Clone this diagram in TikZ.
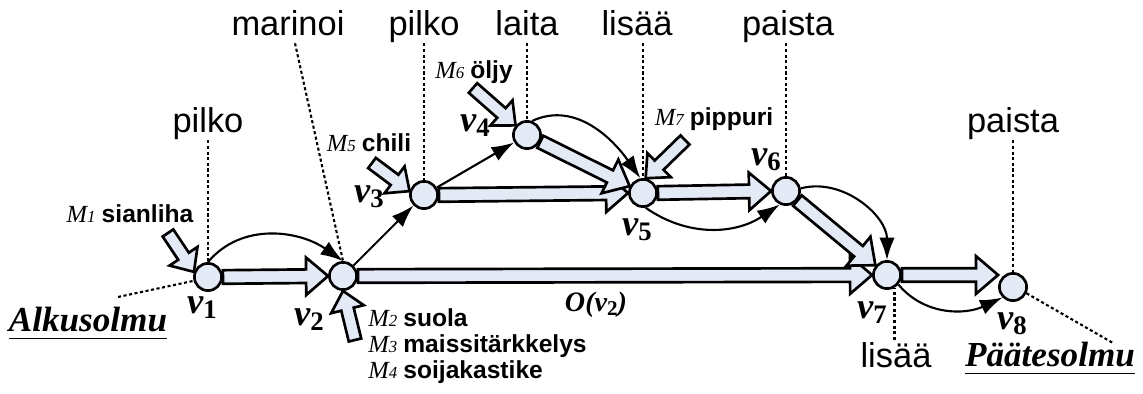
\documentclass[tikz,border=0pt]{standalone}
\usepackage{fontspec}
\setmainfont{Liberation Serif}
\setsansfont{Liberation Sans}
\usetikzlibrary{arrows.meta,calc,backgrounds}

\definecolor{pale}{RGB}{227,234,246}

% block arrow from #1 to #2: shaft half-width #3, head half-width #4, head length #5
\newcommand\blockarrow[5]{%
  \path let \p1=(#1), \p2=(#2),
    \n1={atan2(\y2-\y1,\x2-\x1)}, \n2={veclen(\x2-\x1,\y2-\y1)}
    in \pgfextra{\xdef\blkangle{\n1}\xdef\blklength{\n2}};
  \path[blockline, shift={(#1)}, rotate=\blkangle]
    (0,-#3) -- (\blklength-#5,-#3) -- (\blklength-#5,-#4) -- (\blklength+0pt,0)
    -- (\blklength-#5,#4) -- (\blklength-#5,#3) -- (0,#3) -- cycle;}
\newcommand\fatarrow[2]{\blockarrow{#1}{#2}{0.17cm}{0.47cm}{0.55cm}}
\newcommand\inarrow[2]{\blockarrow{#1}{#2}{0.16cm}{0.42cm}{0.47cm}}

% vertex name and ingredient text
\newcommand\vtx[2][19]{v\raisebox{-0.3ex}{\fontsize{#1}{#1}\selectfont\upshape #2}}
\newcommand\ingred[2]{{\itshape M{\fontsize{12}{12}\selectfont #1}}~{\sffamily\bfseries #2}}

\tikzset{
  stepnode/.style={circle, draw, fill=pale, line width=1.9pt, minimum size=0.68cm, inner sep=0pt},
  blockline/.style={draw=black, fill=pale, line width=1.9pt, line join=miter},
  flow/.style={line width=1.5pt, -{Latex[length=16pt,width=11pt]}},
  guide/.style={line width=1.5pt, dash pattern=on 2.2pt off 1.8pt},
  oplabel/.style={font=\sffamily\fontsize{24.5}{24.5}\selectfont, anchor=base, text depth=0pt, inner xsep=1pt, inner ysep=5pt},
  ingr/.style={font=\fontsize{17.5}{18.5}\selectfont, inner sep=0pt, align=left},
  vlabel/.style={font=\fontsize{26}{26}\selectfont\bfseries\itshape, inner sep=0pt},
  olabel/.style={font=\fontsize{20}{20}\selectfont\bfseries\itshape, inner sep=0pt},
  endlabel/.style={font=\fontsize{25}{25}\selectfont\bfseries\itshape, anchor=base, text depth=0pt, inner xsep=0pt, inner ysep=4pt},
}

\begin{document}
\begin{tikzpicture}
\useasboundingbox (0,0) rectangle (28.575,9.85);

% recipe steps
\node[stepnode] (v1) at (5.2,2.925) {};
\node[stepnode] (v2) at (8.575,2.95) {};
\node[stepnode] (v3) at (10.6,4.975) {};
\node[stepnode] (v4) at (13.175,6.475) {};
\node[stepnode] (v5) at (16.075,5.025) {};
\node[stepnode] (v6) at (19.65,5.075) {};
\node[stepnode] (v7) at (22.175,2.975) {};
\node[stepnode] (v8) at (25.325,2.675) {};

% where the ingredients come in
\coordinate (m1) at (4.2,4.025);
\coordinate (m2) at (8.875,1.35);
\coordinate (m5) at (9.3,5.775);
\coordinate (m6) at (11.825,7.65);
\coordinate (m7) at (17.125,6.35);

\begin{pgfonlayer}{background}
  \fatarrow{v1.east}{v2.west}
  \fatarrow{v2.east}{v7.west}
  \fatarrow{v3.east}{v5.west}
  \fatarrow{v4.-27}{v5.153}
  \fatarrow{v5.east}{v6.west}
  \fatarrow{v6.-40}{v7.140}
  \fatarrow{v7.east}{v7.east -| v8.west}
  \inarrow{m1}{v1.160}
  \inarrow{m2}{v2.south}
  \inarrow{m5}{v3.165}
  \inarrow{m6}{v4.140}
  \inarrow{m7}{v5.80}
\end{pgfonlayer}

% precedence
\draw[flow] (v1.north) to[out=50,in=145] (v2.north);
\draw[flow] (v2) -- (v3);
\draw[flow] (v3) -- (v4);
\draw[flow] (v4.70) to[out=25,in=125] (v5.100);
\draw[flow] (v5.-80) to[out=-35,in=-146] (v6.-115);
\draw[flow] (v6.10) to[out=15,in=90] (v7.north);
\draw[flow] (v7.-40) to[out=-50,in=-155] (v8.-135);

% operations
\node[oplabel] (p1) at (5.2,6.525) {pilko};
\node[oplabel] (p2) at (7.2,8.95) {marinoi};
\node[oplabel] (p3) at (10.6,8.95) {pilko};
\node[oplabel] (p4) at (13.175,8.95) {laita};
\node[oplabel] (p5) at (15.925,8.95) {lisää};
\node[oplabel] (p6) at (19.7,8.95) {paista};
\node[oplabel, inner ysep=2pt] (p7) at (22.4,0.65) {lisää};
\node[oplabel] (p8) at (25.325,6.525) {paista};

\draw[guide] (p1.south -| v1.north) -- (v1.north);
\draw[guide] ([xshift=5pt]p2.south) -- (v2.north);
\draw[guide] (p3.south -| v3.north) -- (v3.north);
\draw[guide] (p4.south -| v4.north) -- (v4.north);
\draw[guide] (p5.south -| v5.north) -- (v5.north);
\draw[guide] (p6.south -| v6.north) -- (v6.north);
\draw[guide] (p7.north -| v7.-60) -- (v7.-60);
\draw[guide] (p8.south -| v8.north) -- (v8.north);

% start and end
\node[endlabel] (alku) at (2.2,1.55) {Alkusolmu};
\node[endlabel] (loppu) at (26.25,0.675) {Päätesolmu};
\draw[double, line width=0.5pt, double distance=0.7pt] (alku.south west) -- (alku.south east);
\draw[double, line width=0.5pt, double distance=0.7pt] (loppu.south west) -- (loppu.south east);
\coordinate (alkuend) at (2.95,2.425);
\coordinate (loppuend) at (27.825,1.275);
\draw[guide] (alkuend) -- (v1.195);
\draw[guide] (v8.-25) -- (loppuend);

% ingredients
\node[ingr] (l1) at (3.25,4.5) {\ingred{1}{sianliha}};
\node[ingr, anchor=north west] (l2) at (9.2,2.15) {\ingred{2}{suola}\\ \ingred{3}{maissitärkkelys}\\ \ingred{4}{soijakastike}};
\node[ingr] (l5) at (9.225,6.275) {\ingred{5}{chili}};
\node[ingr] (l6) at (11.85,8.05) {\ingred{6}{öljy}};
\node[ingr] (l7) at (17.85,6.875) {\ingred{7}{pippuri}};

% vertex names
\node[vlabel] (n1) at (5.05,2.15) {\vtx{1}};
\node[vlabel] (n2) at (7.725,1.85) {\vtx{2}};
\node[vlabel] (n3) at (9.225,4.925) {\vtx{3}};
\node[vlabel] (n4) at (11.875,6.7) {\vtx{4}};
\node[vlabel] (n5) at (15.925,4.1) {\vtx{5}};
\node[vlabel] (n6) at (19.15,5.85) {\vtx{6}};
\node[vlabel] (n7) at (21.8,2.025) {\vtx{7}};
\node[vlabel] (n8) at (25.3,1.75) {\vtx{8}};
\node[olabel] (o2) at (14.9,2.225) {O(\vtx[15]{2})};

\end{tikzpicture}
\end{document}
